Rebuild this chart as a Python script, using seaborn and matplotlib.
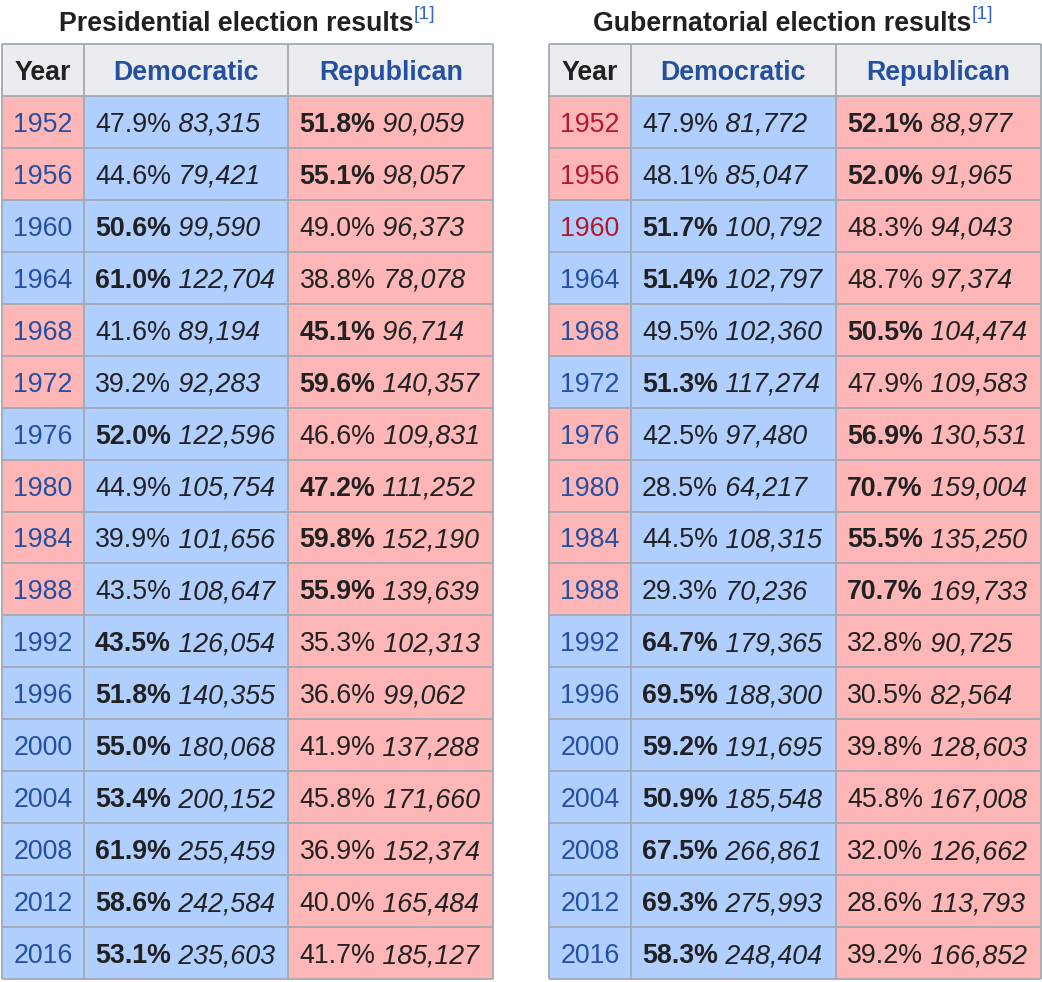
import numpy as np
import matplotlib.pyplot as plt
from matplotlib.colors import ListedColormap
import seaborn as sns

sns.set_theme(style="white")
plt.rcParams["font.family"] = ["Liberation Sans", "DejaVu Sans"]

years = [1952, 1956, 1960, 1964, 1968, 1972, 1976, 1980, 1984, 1988,
         1992, 1996, 2000, 2004, 2008, 2012, 2016]

pres_dem_pct = [47.9, 44.6, 50.6, 61.0, 41.6, 39.2, 52.0, 44.9, 39.9, 43.5,
                43.5, 51.8, 55.0, 53.4, 61.9, 58.6, 53.1]
pres_dem_votes = [83315, 79421, 99590, 122704, 89194, 92283, 122596, 105754,
                  101656, 108647, 126054, 140355, 180068, 200152, 255459,
                  242584, 235603]
pres_rep_pct = [51.8, 55.1, 49.0, 38.8, 45.1, 59.6, 46.6, 47.2, 59.8, 55.9,
                35.3, 36.6, 41.9, 45.8, 36.9, 40.0, 41.7]
pres_rep_votes = [90059, 98057, 96373, 78078, 96714, 140357, 109831, 111252,
                  152190, 139639, 102313, 99062, 137288, 171660, 152374,
                  165484, 185127]

gov_dem_pct = [47.9, 48.1, 51.7, 51.4, 49.5, 51.3, 42.5, 28.5, 44.5, 29.3,
               64.7, 69.5, 59.2, 50.9, 67.5, 69.3, 58.3]
gov_dem_votes = [81772, 85047, 100792, 102797, 102360, 117274, 97480, 64217,
                 108315, 70236, 179365, 188300, 191695, 185548, 266861,
                 275993, 248404]
gov_rep_pct = [52.1, 52.0, 48.3, 48.7, 50.5, 47.9, 56.9, 70.7, 55.5, 70.7,
               32.8, 30.5, 39.8, 45.8, 32.0, 28.6, 39.2]
gov_rep_votes = [88977, 91965, 94043, 97374, 104474, 109583, 130531, 159004,
                 135250, 169733, 90725, 82564, 128603, 167008, 126662,
                 113793, 166852]

# years linked to not-yet-existing articles (shown in red) in the governor table
gov_red_years = [1952, 1956, 1960]

columns = ["Year", "Democratic", "Republican"]
col_units = [2, 5, 5]  # relative column widths

BLUE_BG = "#b0cefe"
RED_BG = "#feb6b6"
HEAD_BG = "#eaecf0"
BORDER = "#a2a9b1"
TEXT = "#202122"
LINK = "#2550a2"
REDLINK = "#b01a2e"
FS = 19.3


def cell_codes(dem_pct, rep_pct):
    # 0 = democratic blue, 1 = republican red, 2 = header grey
    rows = [np.repeat([2, 2, 2], col_units)]
    for d, r in zip(dem_pct, rep_pct):
        win = 0 if d > r else 1
        rows.append(np.repeat([win, 0, 1], col_units))
    return np.array(rows)


def draw_table(ax, dem_pct, dem_votes, rep_pct, rep_votes, red_years=()):
    codes = cell_codes(dem_pct, rep_pct)
    sns.heatmap(codes, ax=ax, cmap=ListedColormap([BLUE_BG, RED_BG, HEAD_BG]),
                vmin=0, vmax=2, cbar=False, linewidths=0,
                xticklabels=False, yticklabels=False)
    ax.set_axis_off()

    n_rows, n_cols = codes.shape
    edges = np.cumsum([0] + col_units)
    ax.hlines(np.arange(n_rows + 1), 0, n_cols, color=BORDER, lw=1.3,
              clip_on=False)
    ax.vlines(edges, 0, n_rows, color=BORDER, lw=1.3, clip_on=False)

    centers = (edges[:-1] + edges[1:]) / 2
    for c, name in enumerate(columns):
        ax.text(centers[c], 0.5, name, ha="center", va="center_baseline",
                fontsize=FS, fontweight="bold",
                color=TEXT if c == 0 else LINK)

    for i, yr in enumerate(years):
        y = i + 1.5
        ax.text(centers[0], y, str(yr), ha="center", va="center_baseline",
                fontsize=FS, color=REDLINK if yr in red_years else LINK)
        dem_win = dem_pct[i] > rep_pct[i]
        cells = [(edges[1], dem_pct[i], dem_votes[i], dem_win),
                 (edges[2], rep_pct[i], rep_votes[i], not dem_win)]
        for x0, pct, votes, bold in cells:
            t1 = ax.annotate(f"{pct:.1f}%", xy=(x0, y), xytext=(8, 0),
                             textcoords="offset points", ha="left",
                             va="center_baseline", fontsize=FS, color=TEXT,
                             fontweight="bold" if bold else "normal")
            ax.annotate(f" {votes:,}", xy=(1, y), xycoords=(t1, "data"),
                        ha="left", va="center_baseline", fontsize=FS,
                        color=TEXT, fontstyle="italic")


def draw_title(fig, x, text):
    t = fig.text(x, 0.979, text, ha="center", va="center_baseline",
                 fontsize=FS, fontweight="bold", color=TEXT)
    fig.axes[0].annotate("[1]", xy=(1, 1), xycoords=t, xytext=(0, 3),
                         textcoords="offset points", ha="left", va="top",
                         fontsize=14, color="#3366cc", annotation_clip=False)


fig = plt.figure(figsize=(10.42, 9.82), dpi=100)
ax_pres = fig.add_axes([2 / 1042, 3 / 982, 491 / 1042, 935 / 982])
ax_gov = fig.add_axes([549 / 1042, 3 / 982, 492 / 1042, 935 / 982])

draw_table(ax_pres, pres_dem_pct, pres_dem_votes, pres_rep_pct, pres_rep_votes)
draw_table(ax_gov, gov_dem_pct, gov_dem_votes, gov_rep_pct, gov_rep_votes,
           red_years=gov_red_years)

draw_title(fig, 236 / 1042, "Presidential election results")
draw_title(fig, 782 / 1042, "Gubernatorial election results")

fig.savefig("out.png", dpi=100, facecolor="white")
